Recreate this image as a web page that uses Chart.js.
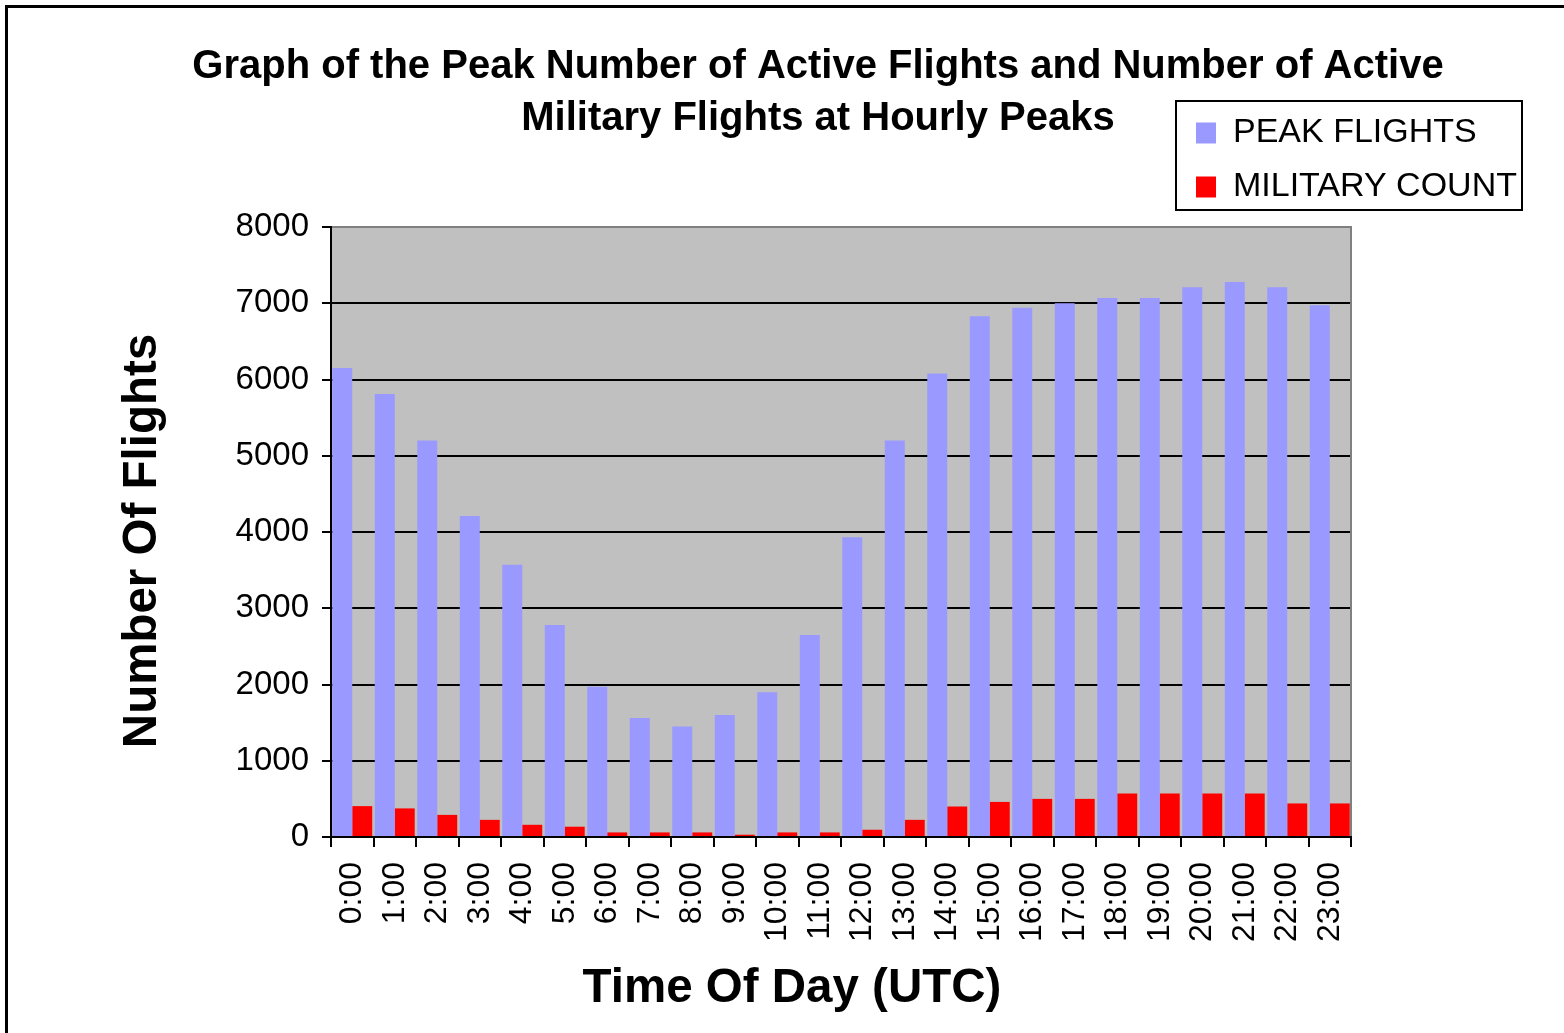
<!DOCTYPE html>
<html>
<head>
<meta charset="utf-8">
<script src="https://cdn.jsdelivr.net/npm/chart.js@4.4.0/dist/chart.umd.min.js"></script>
<style>
  html, body { margin: 0; padding: 0; background: #ffffff; }
  #wrap { width: 1564px; height: 1033px; position: relative; }
</style>
</head>
<body>
<div id="wrap"><canvas id="c" width="1564" height="1033"></canvas></div>
<script>
const hours = ['0:00','1:00','2:00','3:00','4:00','5:00','6:00','7:00','8:00','9:00','10:00','11:00',
               '12:00','13:00','14:00','15:00','16:00','17:00','18:00','19:00','20:00','21:00','22:00','23:00'];
const peakFlights = [6150, 5810, 5200, 4210, 3570, 2780, 1970, 1560, 1450, 1600, 1900, 2650,
                     3930, 5200, 6080, 6830, 6940, 7000, 7070, 7070, 7210, 7280, 7210, 6975];
const militaryCount = [405, 375, 290, 225, 160, 135, 60, 60, 60, 30, 60, 60,
                       95, 225, 400, 460, 500, 500, 570, 570, 570, 570, 440, 440];
const seriesNames = ['PEAK FLIGHTS', 'MILITARY COUNT'];
const titleLines = ['Graph of the Peak Number of Active Flights and Number of Active', 'Military Flights at Hourly Peaks'];
const xTitle = 'Time Of Day (UTC)';
const yTitle = 'Number Of Flights';
const yMin = 0, yMax = 8000, yStep = 1000;

const FONT = '"Liberation Sans", Arial, Helvetica, sans-serif';

const decor = {
  id: 'decor',
  afterLayout(chart) { placeLegend(chart); },
  beforeDraw(chart) {
    placeLegend(chart);
    const ctx = chart.ctx, a = chart.chartArea;
    ctx.save();
    ctx.fillStyle = '#ffffff';
    ctx.fillRect(0, 0, chart.width, chart.height);
    // outer frame
    ctx.strokeStyle = '#000000';
    ctx.lineWidth = 3;
    ctx.beginPath();
    ctx.moveTo(6.5, chart.height + 5);
    ctx.lineTo(6.5, 6.5);
    ctx.lineTo(chart.width + 5, 6.5);
    ctx.stroke();
    // plot background
    ctx.fillStyle = '#C0C0C0';
    ctx.fillRect(a.left, a.top, a.right - a.left, a.bottom - a.top);
    // legend frame
    ctx.fillStyle = '#ffffff';
    ctx.fillRect(1176, 101, 346, 109);
    ctx.strokeStyle = '#000000';
    ctx.lineWidth = 2;
    ctx.strokeRect(1176, 101, 346, 109);
    ctx.restore();
  },
  afterDatasetsDraw(chart) {
    const ctx = chart.ctx, a = chart.chartArea;
    ctx.save();
    ctx.strokeStyle = '#808080';
    ctx.lineWidth = 2;
    ctx.beginPath();
    ctx.moveTo(a.left, a.top);
    ctx.lineTo(a.right, a.top);
    ctx.lineTo(a.right, a.bottom);
    ctx.stroke();
    ctx.restore();
  },
  afterDraw(chart) {
    const ctx = chart.ctx;
    ctx.save();
    ctx.fillStyle = '#000000';
    ctx.font = 'bold 47.5px ' + FONT;
    ctx.textAlign = 'center';
    ctx.textBaseline = 'alphabetic';
    ctx.fillText(xTitle, 792, 1002);
    ctx.translate(156, 541);
    ctx.rotate(-Math.PI / 2);
    ctx.fillText(yTitle, 0, 0);
    ctx.restore();
  }
};

function placeLegend(chart) {
  const lg = chart.legend;
  if (!lg) return;
  lg.left = 1176; lg.top = 96;
  lg.width = 356; lg.height = 150;
  lg.right = lg.left + lg.width; lg.bottom = lg.top + lg.height;
}

new Chart(document.getElementById('c'), {
  type: 'bar',
  data: {
    labels: hours,
    datasets: [
      { label: seriesNames[0], data: peakFlights, backgroundColor: '#9999FF', borderWidth: 0 },
      { label: seriesNames[1], data: militaryCount, backgroundColor: '#FF0000', borderWidth: 0 }
    ]
  },
  options: {
    responsive: false,
    maintainAspectRatio: false,
    animation: false,
    devicePixelRatio: 1,
    datasets: { bar: { categoryPercentage: 0.94, barPercentage: 1.0 } },
    layout: { padding: { left: 72, right: 0, top: 0, bottom: 0 } },
    plugins: {
      tooltip: { enabled: false },
      title: {
        display: true,
        text: titleLines,
        color: '#000000',
        font: { family: FONT, size: 40, weight: 'bold', lineHeight: 52 / 40 },
        padding: { top: 41, bottom: 82 }
      },
      legend: {
        display: true,
        position: 'chartArea',
        align: 'start',
        labels: {
          color: '#000000',
          font: { family: FONT, size: 34 },
          boxWidth: 20,
          boxHeight: 21,
          padding: 20
        }
      }
    },
    scales: {
      x: {
        offset: true,
        grid: { display: true, offset: true, drawOnChartArea: false, drawTicks: true, tickLength: 10, color: '#000000', lineWidth: 2 },
        border: { display: true, color: '#000000', width: 2, z: 1 },
        ticks: { color: '#000000', font: { family: FONT, size: 32 }, maxRotation: 90, minRotation: 90, autoSkip: false, padding: 15 },
        afterFit(scale) { scale.height = 196; }
      },
      y: {
        position: 'left',
        min: yMin, max: yMax,
        grid: {
          color: (c) => (c.tick && c.tick.value === yMax) ? '#808080' : '#000000',
          tickColor: '#000000',
          lineWidth: 2, tickLength: 9, drawTicks: true
        },
        border: { display: true, color: '#000000', width: 2, z: 1 },
        ticks: { stepSize: yStep, color: '#000000', font: { family: FONT, size: 33 }, padding: 13,
                 callback: (v) => String(v) },
        afterFit(scale) { scale.width = 331 - 72; }
      },
      rightSpace: {
        type: 'linear',
        position: 'right',
        display: true,
        min: yMin, max: yMax,
        grid: { display: false, drawTicks: false },
        border: { display: false },
        ticks: { display: false },
        afterFit(scale) { scale.width = 1564 - 1351; }
      }
    }
  },
  plugins: [decor]
});
</script>
</body>
</html>
